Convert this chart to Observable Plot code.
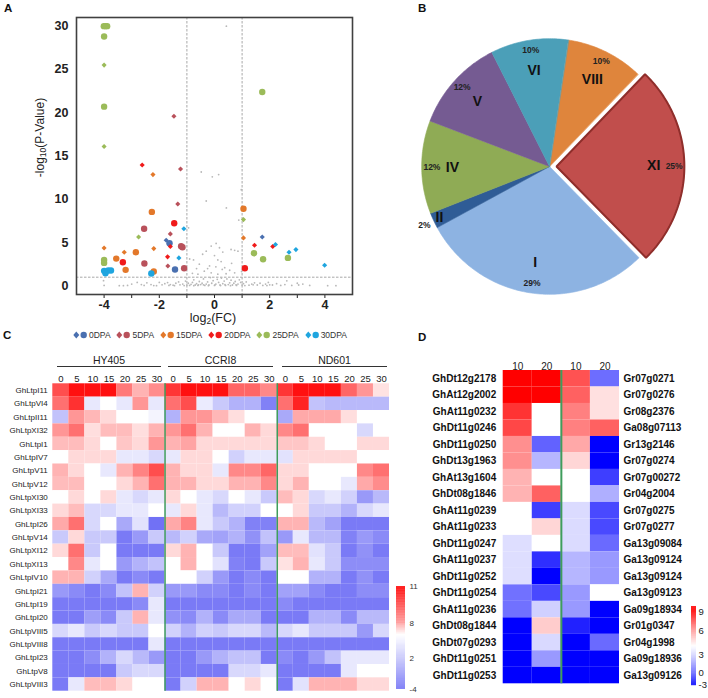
<!DOCTYPE html>
<html>
<head>
<meta charset="utf-8">
<script src="https://cdn.jsdelivr.net/npm/d3@7"></script>
<script src="https://cdn.jsdelivr.net/npm/@observablehq/plot@0.6"></script>
<style>
  body { margin: 0; background: #fff; font-family: Arial, "Liberation Sans", sans-serif; }
  #root { position: relative; width: 708px; height: 698px; overflow: hidden; background: #fff; }
  .abs { position: absolute; }
</style>
</head>
<body>
<div id="root"></div>
<script>
// ================= DATA =================
// ---- Panel A: volcano plot ----
const seriesNames = ["0DPA", "5DPA", "15DPA", "20DPA", "25DPA", "30DPA"];
const seriesColors = ["#4a70b0", "#b9515b", "#e3782a", "#f01a1a", "#9bbb59", "#1fa5df"];
// [log2FC, -log10(p), marker ("d" diamond, "c" circle)]
const pts0DPA = [[-1.75, 5.27, "d"], [-1.63, 4.92, "c"], [-1.43, 1.88, "c"], [1.73, 5.65, "d"]];
const pts5DPA = [[-1.47, 19.6, "d"], [-1.23, 13.5, "d"], [-1.33, 9.46, "d"], [-2.55, 6.6, "c"], [-1.6, 6.0, "d"],
  [-1.21, 4.58, "c"], [-1.16, 4.45, "c"], [-2.54, 2.58, "c"], [-1.69, 2.3, "d"], [-1.1, 2.04, "c"]];
const pts15DPA = [[-4, 4.38, "d"], [-3.56, 3.15, "c"], [-3.27, 3.88, "d"], [-3.22, 1.85, "c"], [-2.85, 3.88, "c"],
  [-2.23, 12.85, "d"], [-2.27, 8.54, "c"], [-2.2, 4.3, "d"], [-2.2, 1.65, "c"], [1.05, 8.9, "c"], [1.05, 5.54, "d"]];
const pts20DPA = [[-2.62, 13.96, "d"], [-3.32, 2.73, "c"], [-1.46, 7.23, "c"], [-1.6, 4.54, "d"], [-1.7, 3.35, "d"],
  [1.1, 2.04, "c"], [1.45, 4.69, "d"], [2.11, 4.54, "d"]];
const pts25DPA = [[-4.01, 30, "c"], [-3.89, 30, "c"], [-3.95, 30, "c"], [-4, 28.8, "c"], [-4, 25.5, "d"], [-4, 20.7, "c"],
  [-4, 16.1, "d"], [1.73, 22.4, "c"], [-2.75, 5.65, "d"], [1.05, 7.65, "d"], [1.43, 3.77, "c"], [1.76, 3.08, "c"],
  [2.66, 3.23, "c"], [-4, 3.0, "c"], [-4, 2.65, "c"]];
const pts30DPA = [[-1.11, 6.6, "d"], [-1.29, 3.23, "d"], [-4, 1.73, "c"], [-3.85, 1.78, "c"], [-3.95, 1.45, "c"],
  [-3.75, 1.78, "c"], [-2.29, 1.42, "c"], [2.21, 4.77, "d"], [2.7, 3.88, "d"], [2.95, 4.19, "d"], [3.99, 2.38, "d"]];
const greyPts = [
  [0.43, 30], [-0.48, 13.15], [-0.08, 12.6], [0.15, 12.85], [-0.3, 9.8], [0.43, 9.0], [0.97, 11.1], [0.88, 7.6], [-0.94, 6.7],
  [0.06, 4.9], [-0.12, 4.6], [0.18, 4.4], [-0.3, 4.0], [-0.43, 3.65], [0.3, 3.9], [0.6, 4.2], [0.73, 4.1], [0.85, 4.0],
  [0, 3.5], [0.12, 3.0], [0.24, 2.8], [-0.55, 2.5], [-0.76, 3.0], [-0.9, 3.1], [-0.18, 2.3], [0.37, 2.1], [0.55, 1.8],
  [0.73, 1.5], [-0.37, 1.7], [-0.12, 1.5], [0.12, 1.35], [0.42, 1.4], [0.98, 1.65], [-0.6, 1.35], [-0.8, 1.45], [0.28, 1.9],
  [-0.25, 2.0], [0.05, 2.2], [0.62, 2.6], [-0.65, 2.0],
  [-4.02, 0.6], [-4, 0.05], [-3.3, 0.02], [-3.15, 0.05], [-3.0, 0.2], [-2.8, 0.4], [-2.65, 0.15], [-2.45, 0.35], [-2.3, 0.15],
  [-2.1, 0.02], [-2.0, 0.4], [-1.9, 0.12], [-1.8, 0.25], [-1.7, 0.38], [-1.6, 0.15], [-1.5, 0.08], [-1.4, 0.3], [-1.3, 0.45],
  [-1.25, 0.12], [-1.15, 0.2], [-1.05, 0.55], [-1.0, 0.1], [-0.95, 0.3], [-0.9, 0.05], [-0.85, 0.18], [-0.8, 0.4], [-0.75, 0.7],
  [-0.7, 0.1], [-0.65, 0.25], [-0.6, 0.05], [-0.55, 0.5], [-0.5, 0.15], [-0.45, 0.3], [-0.4, 0.8], [-0.35, 0.05], [-0.3, 0.2],
  [-0.25, 0.45], [-0.2, 0.1], [-0.15, 0.95], [-0.1, 0.3], [-0.05, 0.6], [0, 0.05], [0.05, 0.2], [0.1, 0.75], [0.15, 0.4],
  [0.2, 0.1], [0.25, 0.9], [0.3, 0.25], [0.35, 0.55], [0.4, 0.05], [0.45, 0.8], [0.5, 0.15], [0.55, 0.35], [0.6, 0.65],
  [0.65, 0.1], [0.7, 0.3], [0.75, 0.5], [0.8, 0.05], [0.85, 0.2], [0.9, 0.7], [0.95, 0.4], [1.0, 0.1], [1.05, 0.25],
  [1.15, 0.45], [1.25, 0.08], [1.35, 0.2], [1.45, 0.35], [1.55, 0.1], [1.65, 0.3], [1.75, 0.05], [1.85, 0.2], [1.95, 0.4],
  [2.1, 0.1], [2.25, 0.25], [2.4, 0.05], [2.55, 0.15], [2.62, 0.58], [2.8, 0.05], [3.05, 0.1], [3.2, 0.2], [3.45, 0.05],
  [4.1, 0.02], [4.4, 0.02], [-0.75, 0.02], [-0.4, 0.12], [-0.22, 0.02], [0.02, 0.12], [0.22, 0.03], [0.38, 0.14],
  [0.58, 0.02], [0.78, 0.12], [-0.58, 0.12], [-1.1, 0.03], [1.1, 0.03], [1.4, 0.12], [-1.45, 0.02], [-1.65, 0.05],
  [-2.2, 0.03], [1.9, 0.03], [2.0, 0.12], [-2.55, 0.05], [-3.45, 0.02], [3.0, 0.3]
];
const xTicksA = [-4, -3, -2, -1, 0, 1, 2, 3, 4];
const yTicksA = [0, 5, 10, 15, 20, 25, 30];
const fcCutoffs = [-1, 1];
const pCutoff = [1];

// ---- Panel B: pie ----
const pieClasses = ["VIII", "XI", "I", "II", "IV", "V", "VI"];
const pieCounts = [5, 13, 15, 1, 6, 6, 5];
const pieColors = ["#df853c", "#c14e4c", "#8db3e2", "#2f5c96", "#8fab55", "#755b92", "#4b9fb8"];
const explodeClass = "XI";

// ---- Panel C: heatmap ----
const cultivars = ["HY405", "CCRI8", "ND601"];
const dpaC = [0, 5, 10, 15, 20, 25, 30];
const genesC = ["GhLtpI11", "GhLtpVI4", "GhLtpII11", "GhLtpXI32", "GhLtpI1", "GhLtpIV7", "GhLtpV11", "GhLtpV12",
  "GhLtpXI30", "GhLtpXI33", "GhLtpI26", "GhLtpV14", "GhLtpXI12", "GhLtpXI13", "GhLtpIV10", "GhLtpI21", "GhLtpI19",
  "GhLtpI20", "GhLtpVIII5", "GhLtpVIII8", "GhLtpI23", "GhLtpV8", "GhLtpVIII3"];
const exprHY405 = [
  [9.7, 11, 11, 11, 8.8, 7.6, 8.4], [9.0, 10.3, 4.4, 6, 4.4, 8.2, 4.4], [1.7, 8.2, 7.5, 6.8, 6, 6, 5.2],
  [8.2, 9.0, 6.7, 7.4, 7.4, 6.7, 7.6], [7.4, 7.4, 6.8, 6, 7.2, 6.8, 8.2], [6, 6.8, 6.8, 6.8, 4.4, 4.4, 3.3],
  [7.6, 6.8, 6, 4.4, 7.6, 8.6, 9.7], [7.4, 7.4, 6, 6, 6.8, 7.6, 9.0], [6, 6.8, 6, 6.8, 4.4, 3.3, 4.4],
  [6.8, 7.4, 3.3, 3.3, 4.4, 4.4, 6], [7.8, 9.0, 3.3, 6, 0, 4.0, -3.9], [2.2, 6.8, 2.2, 2.2, -3.3, -1.1, 2.2],
  [6.8, 9.0, 2.2, 6, -3.3, -3.3, -3.3], [6, 8.5, 4.4, 6, -1.1, 0.6, 1.7], [7.6, 7.6, 2.8, 0, -3.3, -2.2, -3.3],
  [-1.1, -2.2, -3.3, -2.2, 1.7, 7.6, 2.8], [-3.3, -3.3, -3.3, -3.3, -3.3, -2.2, 4.4], [-3.3, -3.3, -0.8, -2.2, 2.2, 7.6, 4.4],
  [3.3, 4.4, 2.2, 3.3, 2.2, 2.2, 6], [-3.3, -3.3, -3.3, -3.3, -3.3, -3.3, 4.4], [-3.3, -3.3, -2.0, 0.6, 3.3, 1.1, -1.1],
  [-3.3, -3.3, -3.3, -3.3, 2.2, 3.3, 3.3], [-3.3, 4.4, 7.4, 7.4, 6.8, 6, 6]
];
const exprCCRI8 = [
  [10.2, 11, 11, 11, 9.2, 9.2, 8.5], [9.0, 9.7, 4.6, 2.2, 0.6, 0.6, -2.8], [0.6, 8.2, 8.2, 7.5, 6.7, 6, 6],
  [8.2, 9.0, 7.6, 6, 6, 7.6, 6.8], [7.6, 7.9, 6.8, 6.8, 6.8, 6.8, 6.8], [4.4, 6.8, 6.8, 6, 2.8, 4.4, 4.4],
  [7.6, 6.8, 6.8, 4.4, 8.5, 8.5, 9.2], [7.6, 7.6, 6.8, 6.8, 7.6, 7.6, 8.5], [6.8, 6, 4.4, 3.3, 6, 4.4, 2.2],
  [4.4, 6.8, 4.4, 1.1, 2.8, 2.8, 6], [7.8, 8.6, 4.4, 2.2, 0.6, -2.8, -2.8], [1.1, 2.8, 0, -0.5, 0.6, -1.7, 1.7],
  [6.8, 7.6, 6, 2.2, -3.3, -3.3, -0.5], [6, 7.6, 6, 4.0, -2.8, -3.3, 2.2], [6, 6, 2.8, -1.1, -3.3, -2.2, -3.3],
  [-1.1, -1.1, -2.2, -2.2, -3.3, -2.2, -3.3], [-3.3, -3.3, -3.3, -3.3, -3.3, -3.3, -3.3], [-1.7, -2.2, 0.6, -2.2, 0, 0, -3.3],
  [2.8, 0.6, 2.8, 2.2, 3.3, 3.3, 1.1], [-3.3, -3.3, -3.3, -3.3, -3.3, -3.3, -3.3], [-3.3, -3.3, -1.1, 0.6, 1.7, 1.7, -3.3],
  [-3.3, -3.3, -3.3, -3.3, 3.3, 3.3, 4.4], [-3.3, 2.8, 7.6, 7.6, 6, 6.8, 6]
];
const exprND601 = [
  [10.2, 11, 11, 11, 9.2, 8.2, 6.6], [9.0, 10.6, 1.7, 1.1, 1.1, 1.1, 1.1], [0, 7.8, 7.8, 7.8, 6.7, 6, 6],
  [8.5, 9.0, 6, 6, 6, 3.3, 6], [7.2, 7.2, 6.8, 6, 6, 6.8, 6.8], [4.0, 6.8, 6.8, 6.8, 6.8, 6, 6],
  [6.8, 6.8, 6, 6, 6, 8.5, 9.0], [6.8, 7.6, 6, 6, 4.4, 7.8, 8.4], [7.4, 6.8, 3.3, 4.4, 2.8, -1.1, 1.1],
  [6, 6.8, 2.2, 2.2, 0.6, 3.3, 4.4], [7.6, 7.6, 1.1, -0.5, -3.3, -3.3, -3.3], [-1.1, 4.4, 1.1, 1.1, -2.8, -1.1, -2.2],
  [7.4, 7.4, 4.0, 2.2, -3.3, -1.7, -3.3], [6.6, 7.6, 4.4, 2.2, -2.0, -2.0, -2.0], [6, 6, 0.6, 0.6, -3.3, -1.7, -3.3],
  [-0.5, -0.5, -2.2, -3.3, -3.3, -2.0, -2.0], [-2.2, -3.3, -3.3, -3.3, -3.3, -3.3, -3.3], [-3.3, -3.3, 0.6, 0.6, -2.2, 1.1, 1.1],
  [3.3, 4.4, 2.2, 2.2, 2.2, -1.1, 3.3], [-3.3, -3.3, -3.3, -3.3, -3.3, -3.3, -3.3], [-2.2, -3.3, -1.1, 1.7, 4.4, 4.4, 4.4],
  [-3.3, -3.3, -3.3, -3.3, 4.4, 6, 6], [-3.3, 4.0, 7.6, 7.6, 7.6, 6.8, 6.8]
];
const colorBarTicksC = [11, 8, 2, -4];

// ---- Panel D: heatmap ----
const dColsLeft = ["10", "20"];
const dColsRight = ["10", "20"];
const genesDLeft = ["GhDt12g2178", "GhAt12g2002", "GhAt11g0232", "GhDt11g0246", "GhDt11g0250", "GhDt13g1963",
  "GhAt13g1604", "GhDt08g1846", "GhAt11g0239", "GhAt11g0233", "GhDt11g0247", "GhAt11g0237", "GhDt11g0252",
  "GhDt11g0254", "GhAt11g0236", "GhDt08g1844", "GhDt07g0293", "GhDt11g0251", "GhDt11g0253"];
const genesDRight = ["Gr07g0271", "Gr07g0276", "Gr08g2376", "Ga08g07113", "Gr13g2146", "Gr07g0274", "Gr07g00272",
  "Gr04g2004", "Gr07g0275", "Gr07g0277", "Ga13g09084", "Ga13g09124", "Ga13g09124", "Ga13g09123", "Ga09g18934",
  "Gr01g0347", "Gr04g1998", "Ga09g18936", "Ga13g09126"];
const exprDLeft = [[9, 9], [9, 9], [8.0, 4.0], [7.6, 4.0], [6.2, -0.3], [6.2, 2.0], [5.5, 4.0], [5.5, 7.1], [4.0, -1.3],
  [4.0, 4.8], [3.1, 4.0], [3.1, -1.7], [3.1, -3], [0.1, -1.0], [0.1, 2.7], [-3, 5.0], [-3, 2.95], [-3, 1.2], [-3, -3]];
const exprDRight = [[7.4, 0.0], [7.1, 4.6], [6.5, 4.6], [6.5, 7.1], [5.7, -3], [4.8, -3], [4.0, -1.3], [4.0, 1.8],
  [3.0, -1.0], [3.0, -1.0], [3.0, -0.1], [2.0, 1.2], [2.0, 1.2], [1.2, 4.0], [1.2, -3], [-2.1, -3], [-3, -0.1], [-3, -3], [-3, -3]];
const colorBarTicksD = [9, 6, 3, 0, -3];

// ================= LAYOUT HELPERS =================
const root = document.getElementById("root");
const FONT = "Arial, 'Liberation Sans', sans-serif";
function place(node, left, top, w) {
  const d = document.createElement("div");
  d.className = "abs";
  d.style.left = left + "px"; d.style.top = top + "px";
  if (w) d.style.width = w + "px";
  d.appendChild(node);
  root.appendChild(d);
  return d;
}
function html(s, css) {
  const d = document.createElement("div");
  d.className = "abs";
  d.style.cssText += css;
  d.innerHTML = s;
  root.appendChild(d);
  return d;
}
const baseStyle = {background: "transparent", overflow: "visible", fontFamily: FONT, color: "#222"};

// ================= PANEL A =================
const coloredA = [pts0DPA, pts5DPA, pts15DPA, pts20DPA, pts25DPA, pts30DPA]
  .flatMap((arr, i) => arr.map(([x, y, s]) => ({x, y, s, series: seriesNames[i]})));
const plotA = Plot.plot({
  width: 360, height: 318,
  marginLeft: 76, marginRight: 8, marginTop: 17, marginBottom: 24,
  x: {domain: [-5, 5], ticks: xTicksA, tickFormat: d => (d % 2 === 0 ? String(d) : ""), tickSize: 4, tickPadding: 2, label: null},
  y: {domain: [-1, 31], ticks: yTicksA, tickSize: 0, tickPadding: 8, label: null},
  color: {domain: seriesNames, range: seriesColors},
  style: {...baseStyle, fontSize: "12.5px", fontWeight: "bold"},
  marks: [
    Plot.ruleX(fcCutoffs, {stroke: "#a8a8a8", strokeDasharray: "2.5,1.5"}),
    Plot.ruleY(pCutoff, {stroke: "#a8a8a8", strokeDasharray: "2.5,1.5"}),
    Plot.dot(greyPts, {x: d => d[0], y: d => d[1], r: 0.9, fill: "#b8b8b8"}),
    Plot.dot(coloredA.filter(d => d.s === "c"), {x: "x", y: "y", fill: "series", r: 3.2, symbol: "circle"}),
    Plot.dot(coloredA.filter(d => d.s === "d"), {x: "x", y: "y", fill: "series", r: 2.3, symbol: "diamond2"}),
    Plot.frame({stroke: "#404040", strokeWidth: 1.6})
  ]
});
place(plotA, 0, 0, 360);
html('-log<span style="font-size:8.5px;vertical-align:-2px">10</span>(P-Value)',
  `left:-20px;top:130px;width:120px;text-align:center;font-size:12px;color:#222;transform:rotate(-90deg);`);
html('log<span style="font-size:8.5px;vertical-align:-2px">2</span>(FC)',
  `left:173px;top:313px;width:80px;height:12px;line-height:11px;text-align:center;font-size:12.5px;color:#222;`);
// legend
const legA = html("", `left:73px;top:330px;width:274px;display:flex;justify-content:space-between;align-items:center;font-size:8.5px;color:#333;`);
seriesNames.forEach((name, i) => {
  const c = seriesColors[i];
  const item = document.createElement("div");
  item.style.cssText = "display:flex;align-items:center;";
  item.innerHTML = `<svg width="15" height="8" style="display:block"><path d="M3.3,0.6L6.3,4L3.3,7.4L0.3,4Z" fill="${c}"/><circle cx="10.7" cy="4" r="3.2" fill="${c}"/></svg><span style="margin-left:1px">${name}</span>`;
  legA.appendChild(item);
});

// ================= PANEL B =================
const startAngle = 8.5 * Math.PI / 180;
const arcs = d3.pie().sort(null).value(d => d).startAngle(startAngle).endAngle(startAngle + 2 * Math.PI)(pieCounts);
const pieTotal = d3.sum(pieCounts);
const explode = 0.055;
const slicePts = [];
const pieLabels = [];
arcs.forEach((a, i) => {
  const cls = pieClasses[i];
  const mid = (a.startAngle + a.endAngle) / 2;
  const off = cls === explodeClass ? explode : 0;
  const ox = off * Math.sin(mid), oy = off * Math.cos(mid);
  slicePts.push({cls, x: ox, y: oy});
  const n = Math.max(3, Math.ceil((a.endAngle - a.startAngle) * 60));
  for (let k = 0; k <= n; k++) {
    const t = a.startAngle + (a.endAngle - a.startAngle) * k / n;
    slicePts.push({cls, x: ox + Math.sin(t), y: oy + Math.cos(t)});
  }
  const small = pieCounts[i] / pieTotal < 0.05;
  const rr = small ? 0.95 : 0.76, rp = small ? 1.08 : 0.92;
  pieLabels.push({
    cls, pct: Math.round(pieCounts[i] / pieTotal * 100) + "%",
    rx: ox + rr * Math.sin(mid), ry: oy + rr * Math.cos(mid),
    px: ox + rp * Math.sin(mid), py: oy + rp * Math.cos(mid)
  });
});
const plotB = Plot.plot({
  width: 294, height: 294, margin: 0,
  x: {domain: [-1.15, 1.15], axis: null},
  y: {domain: [-1.15, 1.15], axis: null},
  color: {domain: pieClasses, range: pieColors},
  style: baseStyle,
  marks: [
    Plot.line(slicePts, {x: "x", y: "y", z: "cls", fill: "cls", stroke: "cls", strokeWidth: 0.6, curve: "linear-closed"}),
    Plot.line(slicePts.filter(d => d.cls === explodeClass), {x: "x", y: "y", stroke: "#8f2e2b", strokeWidth: 2, curve: "linear-closed", strokeLinejoin: "miter"}),
    Plot.text(pieLabels, {x: "rx", y: "ry", text: "cls", fontSize: 14, fontWeight: "bold", fill: "#111"}),
    Plot.text(pieLabels, {x: "px", y: "py", text: "pct", fontSize: 8.5, fontWeight: "bold", fill: "#222"})
  ]
});
place(plotB, 402, 19, 294);

// ================= PANEL C =================
const colKeysC = cultivars.flatMap(c => dpaC.map(d => c + "|" + d));
const exprC = {HY405: exprHY405, CCRI8: exprCCRI8, ND601: exprND601};
const cellsC = genesC.flatMap((g, r) => cultivars.flatMap(c => dpaC.map((d, j) => ({gene: g, col: c + "|" + d, v: exprC[c][r][j]}))));
const colorC = {type: "linear", domain: [-4, 6, 11], range: ["#7070f5", "#ffffff", "#ff1010"], clamp: true};
const wC = 395, mlC = 52.3, mrC = 6;
const bwC = (wC - mlC - mrC) / colKeysC.length;
const plotC = Plot.plot({
  width: wC, height: 350, marginLeft: mlC, marginRight: mrC, marginTop: 38.3, marginBottom: 4.3,
  x: {domain: colKeysC, padding: 0, round: false, axis: null},
  y: {domain: genesC, padding: 0, round: false, axis: null},
  color: colorC,
  style: baseStyle,
  marks: [
    Plot.cell(cellsC, {x: "col", y: "gene", fill: "v"}),
    Plot.ruleX([colKeysC[7], colKeysC[14]], {dx: -bwC / 2, stroke: "#3f9d5c", strokeWidth: 1.5}),
    Plot.text(colKeysC, {x: d => d, text: d => d.split("|")[1], frameAnchor: "top", dy: -9, fontSize: 9.5, fill: "#222"}),
    Plot.text(genesC, {y: d => d, text: d => d, frameAnchor: "left", dx: -5, textAnchor: "end", fontSize: 8, fill: "#222"})
  ]
});
place(plotC, 0, 345, wC);
// group headers
[[57, 104], [168, 105], [282, 105]].forEach(([l, w], i) => {
  html(cultivars[i], `left:${l}px;top:355px;width:${w}px;height:11px;line-height:11px;text-align:center;font-size:10.5px;color:#222;border-bottom:1px solid #333;`);
});
// colour bar C (legend): value -> fraction of bar height, calibrated on the reference's tick placement
const barFracC = d3.scaleLinear().domain([-4, 2, 8, 11]).range([0, 0.301, 0.641, 1]);
const barStepsC = d3.range(-4, 11, 0.05);
const barC = Plot.plot({
  width: 14, height: 115, marginLeft: 0, marginRight: 5, marginTop: 6, marginBottom: 6,
  x: {domain: [0, 1], axis: null},
  y: {domain: [0, 1], axis: null},
  color: colorC,
  style: baseStyle,
  marks: [
    Plot.rect(barStepsC, {x1: () => 0, x2: () => 1, y1: d => barFracC(d), y2: d => barFracC(Math.min(11, d + 0.08)), fill: d => d}),
    Plot.text(colorBarTicksC, {y: d => barFracC(d), text: d => String(d), frameAnchor: "right", dx: 4, textAnchor: "start", fontSize: 8, fill: "#333"})
  ]
});
place(barC, 396, 580, 14);

// ================= PANEL D =================
const dColKeys = [...dColsLeft.map(d => "L|" + d), ...dColsRight.map(d => "R|" + d)];
const rowIdxD = d3.range(genesDLeft.length);
const cellsD = rowIdxD.flatMap(r => [
  ...dColsLeft.map((d, j) => ({row: r, col: "L|" + d, v: exprDLeft[r][j]})),
  ...dColsRight.map((d, j) => ({row: r, col: "R|" + d, v: exprDRight[r][j]}))
]);
const colorD = {type: "linear", domain: [-3, 4, 9], range: ["#0000ff", "#ffffff", "#ff0000"], clamp: true};
const wD = 288, mlD = 82.7, mrD = 89;
const bwD = (wD - mlD - mrD) / dColKeys.length;
const plotD = Plot.plot({
  width: wD, height: 345, marginLeft: mlD, marginRight: mrD, marginTop: 25, marginBottom: 6.7,
  x: {domain: dColKeys, padding: 0, round: false, axis: null},
  y: {domain: rowIdxD, padding: 0, round: false, axis: null},
  color: colorD,
  style: baseStyle,
  marks: [
    Plot.cell(cellsD, {x: "col", y: "row", fill: "v"}),
    Plot.ruleX(["R|10"], {dx: -bwD / 2, stroke: "#3f9d5c", strokeWidth: 2}),
    Plot.text(dColKeys, {x: d => d, text: d => d.split("|")[1], frameAnchor: "top", dy: -8, fontSize: 10, fill: "#222"}),
    Plot.text(rowIdxD, {y: d => d, text: d => genesDLeft[d], frameAnchor: "left", dx: -7, textAnchor: "end", fontSize: 10, fontWeight: "bold", fill: "#111"}),
    Plot.text(rowIdxD, {y: d => d, text: d => genesDRight[d], frameAnchor: "right", dx: 4, textAnchor: "start", fontSize: 10, fontWeight: "bold", fill: "#111"})
  ]
});
place(plotD, 420, 345, wD);
// colour bar D (legend)
const barFracD = d3.scaleLinear().domain([-3, 0, 3, 6, 9]).range([0.087, 0.217, 0.413, 0.674, 0.88]);
const barStepsD = d3.range(-3.3, 9.8, 0.05);
const barD = Plot.plot({
  width: 11, height: 92, marginLeft: 0, marginRight: 6, marginTop: 0, marginBottom: 0,
  x: {domain: [0, 1], axis: null},
  y: {domain: [0, 1], axis: null},
  color: colorD,
  style: baseStyle,
  marks: [
    Plot.rect(barStepsD, {x1: () => 0, x2: () => 1, y1: d => barFracD(d), y2: d => barFracD(Math.min(9.8, d + 0.08)), fill: d => d}),
    Plot.text(colorBarTicksD, {y: d => barFracD(d), text: d => String(d), frameAnchor: "right", dx: 2, textAnchor: "start", fontSize: 9.5, fill: "#222"})
  ]
});
place(barD, 691, 600, 11);

// ================= PANEL LETTERS =================
html("A", "left:4px;top:2px;font-weight:bold;font-size:11.5px;color:#111;");
html("B", "left:418px;top:2px;font-weight:bold;font-size:11.5px;color:#111;");
html("C", "left:3px;top:329px;font-weight:bold;font-size:11.5px;color:#111;");
html("D", "left:418px;top:331px;font-weight:bold;font-size:11.5px;color:#111;");
</script>
</body>
</html>
